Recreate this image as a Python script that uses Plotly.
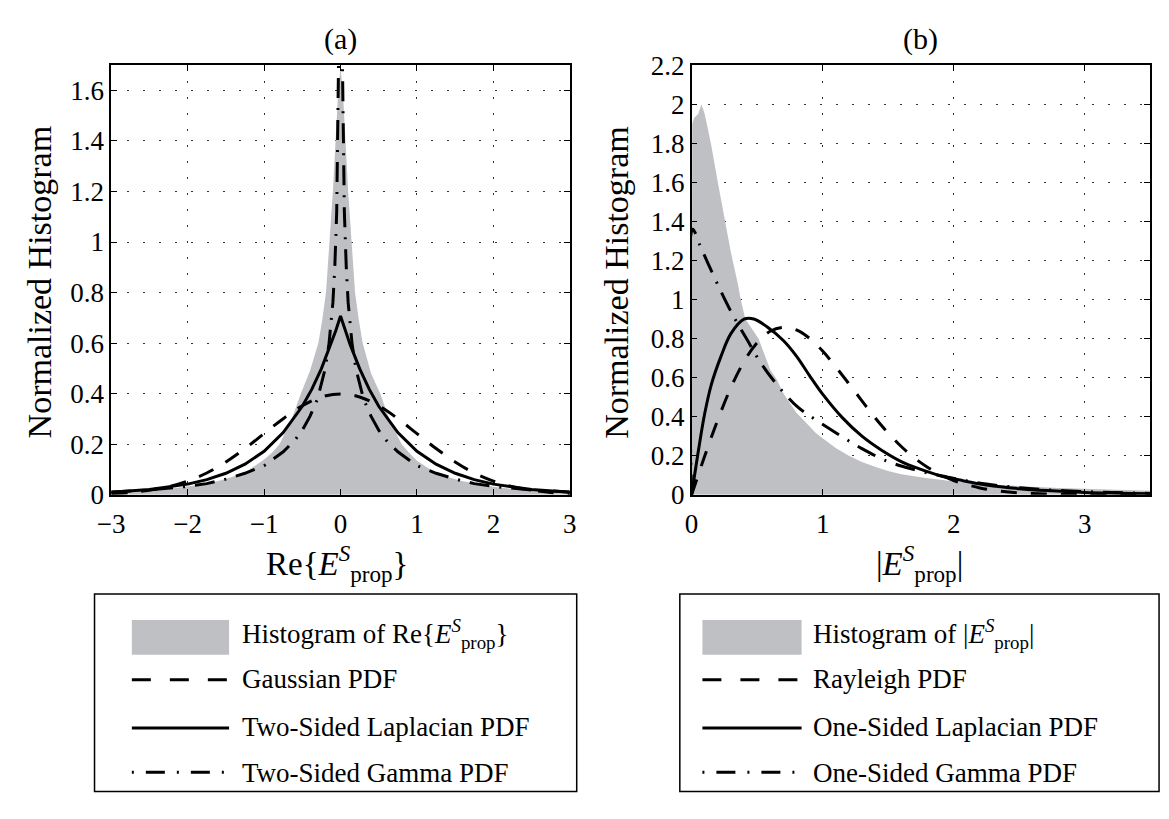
import plotly.graph_objects as go

W, H = 1169, 819

# ---------------- data ----------------
# panel (a): Re{E}
a_hist_x = [-3.0, -2.8, -2.6, -2.4, -2.2, -2.0, -1.8, -1.6, -1.4, -1.2, -1.0, -0.9, -0.8, -0.65,
            -0.52, -0.4, -0.29, -0.24, -0.19, -0.145, -0.1, -0.065, -0.03, 0.0, 0.03, 0.065, 0.1,
            0.145, 0.19, 0.24, 0.29, 0.4, 0.52, 0.65, 0.8, 0.9, 1.0, 1.2, 1.4, 1.6, 1.8, 2.0, 2.2,
            2.4, 2.6, 2.8, 3.0]
a_hist_y = [0.010, 0.012, 0.016, 0.019, 0.025, 0.033, 0.042, 0.054, 0.072, 0.098, 0.14, 0.165, 0.2,
            0.29, 0.4, 0.49, 0.6, 0.69, 0.8, 1.0, 1.2, 1.4, 1.6, 1.69, 1.6, 1.4, 1.2, 1.0, 0.8, 0.69,
            0.6, 0.48, 0.4, 0.29, 0.2, 0.165, 0.135, 0.095, 0.07, 0.053, 0.041, 0.032, 0.025, 0.019,
            0.015, 0.012, 0.009]

a_gauss_x = [-3.0, -2.75, -2.5, -2.25, -2.0, -1.75, -1.5, -1.25, -1.0, -0.75, -0.5, -0.25, 0.0,
             0.25, 0.5, 0.75, 1.0, 1.25, 1.5, 1.75, 2.0, 2.25, 2.5, 2.75, 3.0]
a_gauss_y = [0.005, 0.009, 0.018, 0.032, 0.054, 0.086, 0.13, 0.183, 0.242, 0.301, 0.352, 0.387, 0.399,
             0.387, 0.352, 0.301, 0.242, 0.183, 0.13, 0.086, 0.054, 0.032, 0.018, 0.009, 0.005]

a_lap_x = [-3.0, -2.5, -2.0, -1.75, -1.5, -1.25, -1.0, -0.75, -0.5, -0.375, -0.25, -0.125, -0.0625,
           0.0, 0.0625, 0.125, 0.25, 0.375, 0.5, 0.75, 1.0, 1.25, 1.5, 1.75, 2.0, 2.5, 3.0]
a_lap_y = [0.010, 0.021, 0.042, 0.060, 0.085, 0.121, 0.172, 0.246, 0.35, 0.418, 0.499, 0.595, 0.649,
           0.707, 0.649, 0.595, 0.499, 0.418, 0.35, 0.246, 0.172, 0.121, 0.085, 0.060, 0.042, 0.021,
           0.010]

a_gam_x = [-3.0, -2.5, -2.0, -1.75, -1.5, -1.25, -1.0, -0.75, -0.6, -0.5, -0.4, -0.3, -0.2, -0.15,
           -0.1, -0.075, -0.05, -0.03, -0.02, -0.01, 0.01, 0.02, 0.03, 0.05, 0.075, 0.1, 0.15, 0.2,
           0.3, 0.4, 0.5, 0.6, 0.75, 1.0, 1.25, 1.5, 1.75, 2.0, 2.5, 3.0]
a_gam_y = [0.011, 0.019, 0.033, 0.044, 0.062, 0.085, 0.115, 0.17, 0.215, 0.255, 0.31, 0.38, 0.5, 0.6,
           0.76, 0.9, 1.12, 1.48, 1.83, 2.6, 2.6, 1.83, 1.48, 1.12, 0.9, 0.76, 0.6, 0.5, 0.38, 0.31,
           0.255, 0.215, 0.17, 0.115, 0.085, 0.062, 0.044, 0.033, 0.019, 0.011]

# panel (b): |E|
b_hist_x = [0.0, 0.005, 0.02, 0.05, 0.075, 0.1, 0.125, 0.15, 0.2, 0.25, 0.3, 0.35, 0.375, 0.41, 0.45,
            0.51, 0.55, 0.6, 0.65, 0.7, 0.75, 0.8, 0.85, 0.9, 0.95, 1.0, 1.1, 1.2, 1.3, 1.4, 1.5, 1.6,
            1.7, 1.8, 1.9, 2.0, 2.2, 2.4, 2.6, 2.8, 3.0, 3.2, 3.4, 3.5]
b_hist_y = [0.0, 1.9, 1.93, 1.95, 2.0, 1.95, 1.87, 1.79, 1.6, 1.41, 1.24, 1.09, 1.0, 0.9, 0.86, 0.8,
            0.73, 0.64, 0.59, 0.52, 0.47, 0.42, 0.385, 0.35, 0.315, 0.29, 0.24, 0.2, 0.168, 0.143,
            0.122, 0.105, 0.094, 0.085, 0.077, 0.068, 0.057, 0.048, 0.041, 0.035, 0.03, 0.026, 0.022,
            0.021]

b_ray_x = [0.0, 0.1, 0.2, 0.3, 0.4, 0.5, 0.6, 0.7, 0.8, 0.9, 1.0, 1.1, 1.2, 1.3, 1.4, 1.5, 1.6, 1.7,
           1.8, 1.9, 2.0, 2.2, 2.4, 2.6, 2.8, 3.0, 3.5]
b_ray_y = [0.0, 0.198, 0.384, 0.549, 0.682, 0.779, 0.837, 0.857, 0.844, 0.801, 0.736, 0.655, 0.569,
           0.481, 0.394, 0.316, 0.247, 0.189, 0.141, 0.103, 0.073, 0.035, 0.015, 0.006, 0.002, 0.001,
           0.0]

b_lap_x = [0.0, 0.0125, 0.025, 0.0625, 0.1, 0.15, 0.225, 0.3, 0.4, 0.475, 0.575, 0.7, 0.8, 0.9,
           1.0, 1.15, 1.3, 1.45, 1.6, 1.75, 1.9, 2.07, 2.25, 2.5, 2.75, 3.0, 3.25, 3.5]
b_lap_y = [0.0, 0.055, 0.11, 0.27, 0.416, 0.563, 0.71, 0.825, 0.899, 0.9, 0.86, 0.79, 0.71, 0.61,
           0.515, 0.395, 0.3, 0.228, 0.17, 0.13, 0.097, 0.072, 0.05, 0.031, 0.02, 0.012, 0.008,
           0.005]

b_gam_x = [0.0, 0.008, 0.062, 0.125, 0.225, 0.325, 0.425, 0.525, 0.65, 0.8, 0.9, 1.1, 1.3, 1.5, 1.7,
           1.9, 2.07, 2.25, 2.5, 2.75, 3.0, 3.25, 3.5]
b_gam_y = [0.0, 1.36, 1.28, 1.185, 1.04, 0.907, 0.792, 0.678, 0.565, 0.455, 0.405, 0.318, 0.236,
           0.17, 0.129, 0.097, 0.075, 0.055, 0.036, 0.024, 0.016, 0.011, 0.007]

a_xticks = [-3, -2, -1, 0, 1, 2, 3]
a_yticks = [0, 0.2, 0.4, 0.6, 0.8, 1, 1.2, 1.4, 1.6]
a_ytext = ["0", "0.2", "0.4", "0.6", "0.8", "1", "1.2", "1.4", "1.6"]
b_xticks = [0, 1, 2, 3]
b_yticks = [0, 0.2, 0.4, 0.6, 0.8, 1, 1.2, 1.4, 1.6, 1.8, 2, 2.2]
b_ytext = ["0", "0.2", "0.4", "0.6", "0.8", "1", "1.2", "1.4", "1.6", "1.8", "2", "2.2"]

a_legend = ["Histogram of Re{<i>E</i><sup><i>S</i></sup><sub>prop</sub>}", "Gaussian PDF",
            "Two-Sided Laplacian PDF", "Two-Sided Gamma PDF"]
b_legend = ["Histogram of |<i>E</i><sup><i>S</i></sup><sub>prop</sub>|", "Rayleigh PDF",
            "One-Sided Laplacian PDF", "One-Sided Gamma PDF"]

# ---------------- styles ----------------
FONT = "Liberation Serif"
GRAY = "#bfc0c4"
DASH = "16px,14px"
DASHDOT = "20px,10px,2px,10px"
LW = 3


def px(x):
    return x / W


def py(y):
    return 1 - y / H


fig = go.Figure()


def add_panel(hx, hy, series, xa, ya):
    fig.add_trace(go.Scatter(x=hx, y=hy, mode="lines", fill="tozeroy", fillcolor=GRAY,
                             line=dict(width=0, color=GRAY), xaxis=xa, yaxis=ya,
                             showlegend=False, hoverinfo="skip"))
    for (sx, sy, dash, shape) in series:
        fig.add_trace(go.Scatter(x=sx, y=sy, mode="lines",
                                 line=dict(color="black", width=LW, dash=dash, shape=shape),
                                 xaxis=xa, yaxis=ya, showlegend=False, cliponaxis=True))


add_panel(a_hist_x, a_hist_y,
          [(a_gauss_x, a_gauss_y, DASH, "spline"),
           (a_lap_x, a_lap_y, "solid", "linear"),
           (a_gam_x, a_gam_y, DASHDOT, "linear")], "x", "y")
add_panel(b_hist_x, b_hist_y,
          [(b_ray_x, b_ray_y, DASH, "spline"),
           (b_lap_x, b_lap_y, "solid", "spline"),
           (b_gam_x, b_gam_y, DASHDOT, "spline")], "x2", "y2")

axis_common = dict(showline=True, mirror="ticks", linecolor="black", linewidth=1.5,
                   ticks="inside", ticklen=6, tickwidth=1, tickcolor="black",
                   showgrid=True, gridcolor="#333333", gridwidth=1, griddash="2px,14px",
                   zeroline=False, tickfont=dict(family=FONT, size=27, color="black"))

ydom = [py(498), py(52)]
fig.update_layout(
    width=W, height=H, margin=dict(l=0, r=0, t=0, b=0),
    paper_bgcolor="white", plot_bgcolor="white",
    font=dict(family=FONT, color="black"),
    xaxis=dict(domain=[px(99), px(566)], range=[-3, 3], tickvals=a_xticks, anchor="y",
               ticklabelstandoff=4, **axis_common),
    yaxis=dict(domain=ydom, range=[0, 1.7], tickvals=a_yticks, ticktext=a_ytext, anchor="x",
               **axis_common),
    xaxis2=dict(domain=[px(690), px(1157)], range=[0, 3.5], tickvals=b_xticks, anchor="y2",
                ticklabelstandoff=4, **axis_common),
    yaxis2=dict(domain=ydom, range=[0, 2.2], tickvals=b_yticks, ticktext=b_ytext, anchor="x2",
                **axis_common),
)

ann = []
shapes = []


def text(x, y, s, size, xanchor="center", angle=0):
    ann.append(dict(x=px(x), y=py(y), xref="paper", yref="paper", text=s, showarrow=False,
                    xanchor=xanchor, yanchor="middle", textangle=angle,
                    font=dict(family=FONT, size=size, color="black")))


# titles
text(332, 25, "(a)", 30)
text(923, 25, "(b)", 30)
# axis titles
text(26, 277, "Normalized Histogram", 34, angle=-90)
text(614, 277, "Normalized Histogram", 34, angle=-90)
text(329, 569, "Re{<i>E</i><sup><i>S</i></sup><sub>prop</sub>}", 33)
text(922, 569, "|<i>E</i><sup><i>S</i></sup><sub>prop</sub>|", 33)


def legend_box(x0, x1, sx0, sx1, tx, labels):
    shapes.append(dict(type="rect", xref="paper", yref="paper", x0=px(x0), x1=px(x1),
                       y0=py(806), y1=py(601), line=dict(color="black", width=1.5),
                       fillcolor="rgba(0,0,0,0)"))
    shapes.append(dict(type="rect", xref="paper", yref="paper", x0=px(sx0), x1=px(sx1),
                       y0=py(664), y1=py(628), line=dict(width=0), fillcolor=GRAY))
    for yy, dash in [(690, "19px,19px"), (740, "solid"), (786, "2px,12px,19px,12px")]:
        shapes.append(dict(type="line", xref="paper", yref="paper", x0=px(sx0), x1=px(sx1),
                           y0=py(yy), y1=py(yy), line=dict(color="black", width=LW, dash=dash)))
    for yy, lab in zip([643, 689, 739, 787], labels):
        text(tx, yy, lab, 27, xanchor="left")


legend_box(82, 573, 120, 219, 230, a_legend)
legend_box(678, 1166, 701, 802, 812, b_legend)

fig.update_layout(annotations=ann, shapes=shapes)
fig.write_html("out.html")
